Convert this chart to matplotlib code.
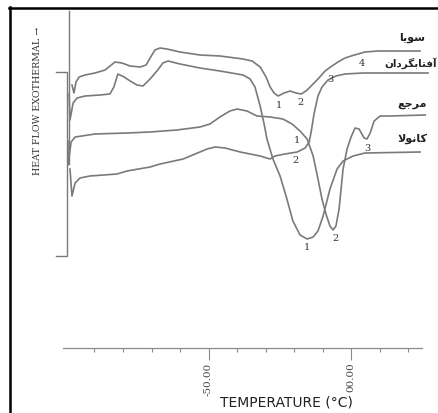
import matplotlib.pyplot as plt
from matplotlib.lines import Line2D

# DSC thermogram.
# Temperature in degC, heat flow in arbitrary units (exotherm up).

soy_temp = [-97.9, -97.2, -96.5, -95.4, -93.3, -89.8, -86.3, -82.8, -80.4, -77.5,
            -74.0, -71.9, -70.5, -68.8, -67.0, -64.6, -60.0, -53.0, -46.0, -37.9,
            -34.7, -31.9, -29.8, -28.4, -27.0, -25.6, -23.5, -21.4, -19.3, -17.5,
            -15.8, -14.0, -11.6, -9.1, -6.7, -4.6, -2.1, 0.0, 4.9, 9.5, 24.2]
soy_flow = [26.3, 25.5, 26.6, 27.1, 27.3, 27.5, 27.8, 28.6, 28.5, 28.2,
            28.1, 28.3, 29.0, 29.8, 30.0, 29.9, 29.6, 29.3, 29.2, 28.9,
            28.7, 28.1, 27.1, 26.1, 25.5, 25.2, 25.5, 25.7, 25.5, 25.4,
            25.7, 26.2, 26.9, 27.7, 28.2, 28.6, 29.0, 29.2, 29.6, 29.7, 29.7]

canola_temp = [-98.9, -98.6, -97.5, -96.1, -93.3, -88.1, -84.6, -83.2, -81.8, -79.6,
               -77.5, -75.1, -73.0, -70.5, -68.1, -66.0, -64.2, -60.0, -53.0, -46.0,
               -37.9, -35.4, -33.7, -31.9, -30.5, -29.5, -27.4, -24.9, -22.5, -20.4,
               -17.9, -15.4, -13.3, -11.6, -9.8, -7.4, -4.9, -2.8, 0.7, 4.9, 24.2]
canola_flow = [25.4, 22.8, 24.5, 25.0, 25.2, 25.3, 25.4, 26.1, 27.4, 27.1,
               26.7, 26.3, 26.2, 26.9, 27.7, 28.5, 28.7, 28.4, 28.0, 27.7,
               27.3, 26.9, 26.1, 24.2, 22.4, 20.9, 18.9, 17.2, 14.9, 12.7,
               11.3, 10.9, 11.1, 11.7, 13.2, 15.9, 17.9, 18.7, 19.2, 19.5, 19.6]

ref_temp = [-99.3, -99.3, -98.2, -96.8, -89.8, -78.6, -70.5, -61.1, -53.0, -49.5,
            -46.0, -42.5, -40.0, -36.5, -33.0, -28.4, -23.9, -20.7, -17.9, -15.4,
            -13.3, -11.6, -10.2, -8.8, -7.4, -6.3, -5.3, -4.2, -3.5, -2.8,
            -1.4, 0.0, 1.4, 2.8, 4.6, 5.6, 6.7, 8.1, 10.2, 13.7, 26.0]
ref_flow = [20.7, 18.3, 20.6, 21.1, 21.4, 21.5, 21.6, 21.8, 22.1, 22.4,
            23.1, 23.7, 23.9, 23.7, 23.2, 23.1, 22.9, 22.4, 21.7, 20.9,
            19.2, 16.9, 14.9, 13.4, 12.2, 11.8, 12.2, 13.9, 15.9, 17.9,
            19.9, 21.1, 22.0, 21.9, 21.0, 20.9, 21.5, 22.7, 23.2, 23.2, 23.3]

sunflower_temp = [-98.6, -97.9, -96.8, -95.1, -91.6, -82.1, -78.6, -70.5, -67.0, -58.9,
                  -54.7, -50.5, -47.7, -44.2, -38.9, -31.9, -28.4, -26.7, -23.2, -18.9,
                  -16.1, -14.7, -14.0, -13.0, -11.6, -10.2, -8.1, -5.3, -2.1, 4.2, 27.0]
sunflower_flow = [17.9, 15.2, 16.5, 17.0, 17.2, 17.4, 17.7, 18.1, 18.4, 18.9,
                  19.4, 19.9, 20.1, 20.0, 19.6, 19.2, 18.9, 19.2, 19.4, 19.6,
                  20.0, 20.6, 21.6, 23.4, 25.2, 26.1, 26.8, 27.2, 27.4, 27.5, 27.5]

# curve names as printed (Arabic presentation forms, visual order)
name_soy = "\uFE8E\uFEF3\uFEEE\uFEB3"                                      # سویا
name_sunflower = "\uFEE5\uFE8D\uFEA9\uFEAE\uFB95\uFE91\uFE8E\uFE98\uFED3\uFE81"  # آفتابگردان
name_ref = "\uFECA\uFE9F\uFEAE\uFEE3"                                      # مرجع
name_canola = "\uFEFB\uFEEE\uFEE7\uFE8E\uFB90"                             # کانولا
name_flow = [31.1, 28.6, 24.5, 21.0]

peak_numbers = ["1", "2", "4", "3", "1", "2", "1", "2", "3"]
peak_temp = [-25.3, -17.9, 3.9, -7.4, -18.9, -19.6, -15.4, -5.6, 5.6]
peak_flow = [24.3, 24.6, 28.6, 27.0, 20.8, 18.8, 10.1, 11.0, 20.0]

major_ticks = [-50, 0]
major_labels = ["-50.00", "00.00"]
minor_ticks = [-90, -80, -70, -60, -40, -30, -20, -10, 10, 20]

FIG_W, FIG_H = 438, 414
LINE_COLOR = "#7a7a7a"


def px_box(left, top, right, bottom):
    """Axes rectangle from pixel edges."""
    return [left / FIG_W, 1 - bottom / FIG_H, (right - left) / FIG_W, (bottom - top) / FIG_H]


def main():
    fig = plt.figure(figsize=(FIG_W / 100, FIG_H / 100), dpi=100)
    ax = fig.add_axes(px_box(63, 8, 438, 349))
    ax.set_xlim(-101.05, 30.5)
    ax.set_ylim(0, 34.1)

    for temp, flow in [(soy_temp, soy_flow), (canola_temp, canola_flow),
                       (ref_temp, ref_flow), (sunflower_temp, sunflower_flow)]:
        ax.plot(temp, flow, color=LINE_COLOR, lw=1.2, solid_joinstyle="round", clip_on=False)

    # recorder baseline marker and calibration bracket
    ax.plot([-98.9, -98.9], [33.7, 18.4], color=LINE_COLOR, lw=1.0, clip_on=False)
    ax.plot([-103.5, -99.6, -99.6, -103.5], [27.6, 27.6, 9.2, 9.2],
            color=LINE_COLOR, lw=1.0, clip_on=False)

    for label, t, f in zip(peak_numbers, peak_temp, peak_flow):
        ax.text(t, f, label, fontsize=7, family="DejaVu Serif", color="#333333",
                ha="center", va="center")

    names = [name_soy, name_sunflower, name_ref, name_canola]
    for i, (name, f) in enumerate(zip(names, name_flow)):
        if i == 1:
            # the long label runs to the right edge of the scan
            ax.text(30.2, f, name, fontsize=7.5, family="DejaVu Sans", fontweight="bold",
                    color="#222222", ha="right", va="center", clip_on=False)
        else:
            ax.text(21.4, f, name, fontsize=8, family="DejaVu Sans", fontweight="bold",
                    color="#222222", ha="center", va="center", clip_on=False)

    for side in ["top", "right", "left"]:
        ax.spines[side].set_visible(False)
    ax.spines["bottom"].set_color("#8a8a8a")
    ax.spines["bottom"].set_linewidth(0.9)
    ax.spines["bottom"].set_bounds(-101.05, 24.9)
    ax.set_yticks([])
    ax.set_xticks(major_ticks, major_labels)
    ax.set_xticks(minor_ticks, minor=True)
    ax.tick_params(axis="x", which="major", length=8.6, width=0.8, color="#8a8a8a",
                   pad=1, labelsize=7.5, labelrotation=90, labelcolor="#444444")
    ax.tick_params(axis="x", which="minor", length=3, width=0.8, color="#8a8a8a")
    for lbl in ax.get_xticklabels():
        lbl.set_fontfamily("DejaVu Serif")

    fig.text(38 / FIG_W, 1 - 101 / FIG_H, "HEAT FLOW EXOTHERMAL \u2192", rotation=90,
             fontsize=6.8, family=["DejaVu Serif"], color="#333333",
             ha="center", va="center")
    fig.text(286 / FIG_W, 1 - 403 / FIG_H, "TEMPERATURE (\u00b0C)", fontsize=10,
             family="DejaVu Sans", color="#222222", ha="center", va="center")

    # scan frame
    fig.add_artist(Line2D([9 / FIG_W, 1], [1 - 8.5 / FIG_H] * 2, color="black", lw=1.8))
    fig.add_artist(Line2D([9.5 / FIG_W] * 2, [0, 1 - 8 / FIG_H], color="black", lw=1.8))

    fig.savefig("out.png", dpi=100)


if __name__ == "__main__":
    main()
